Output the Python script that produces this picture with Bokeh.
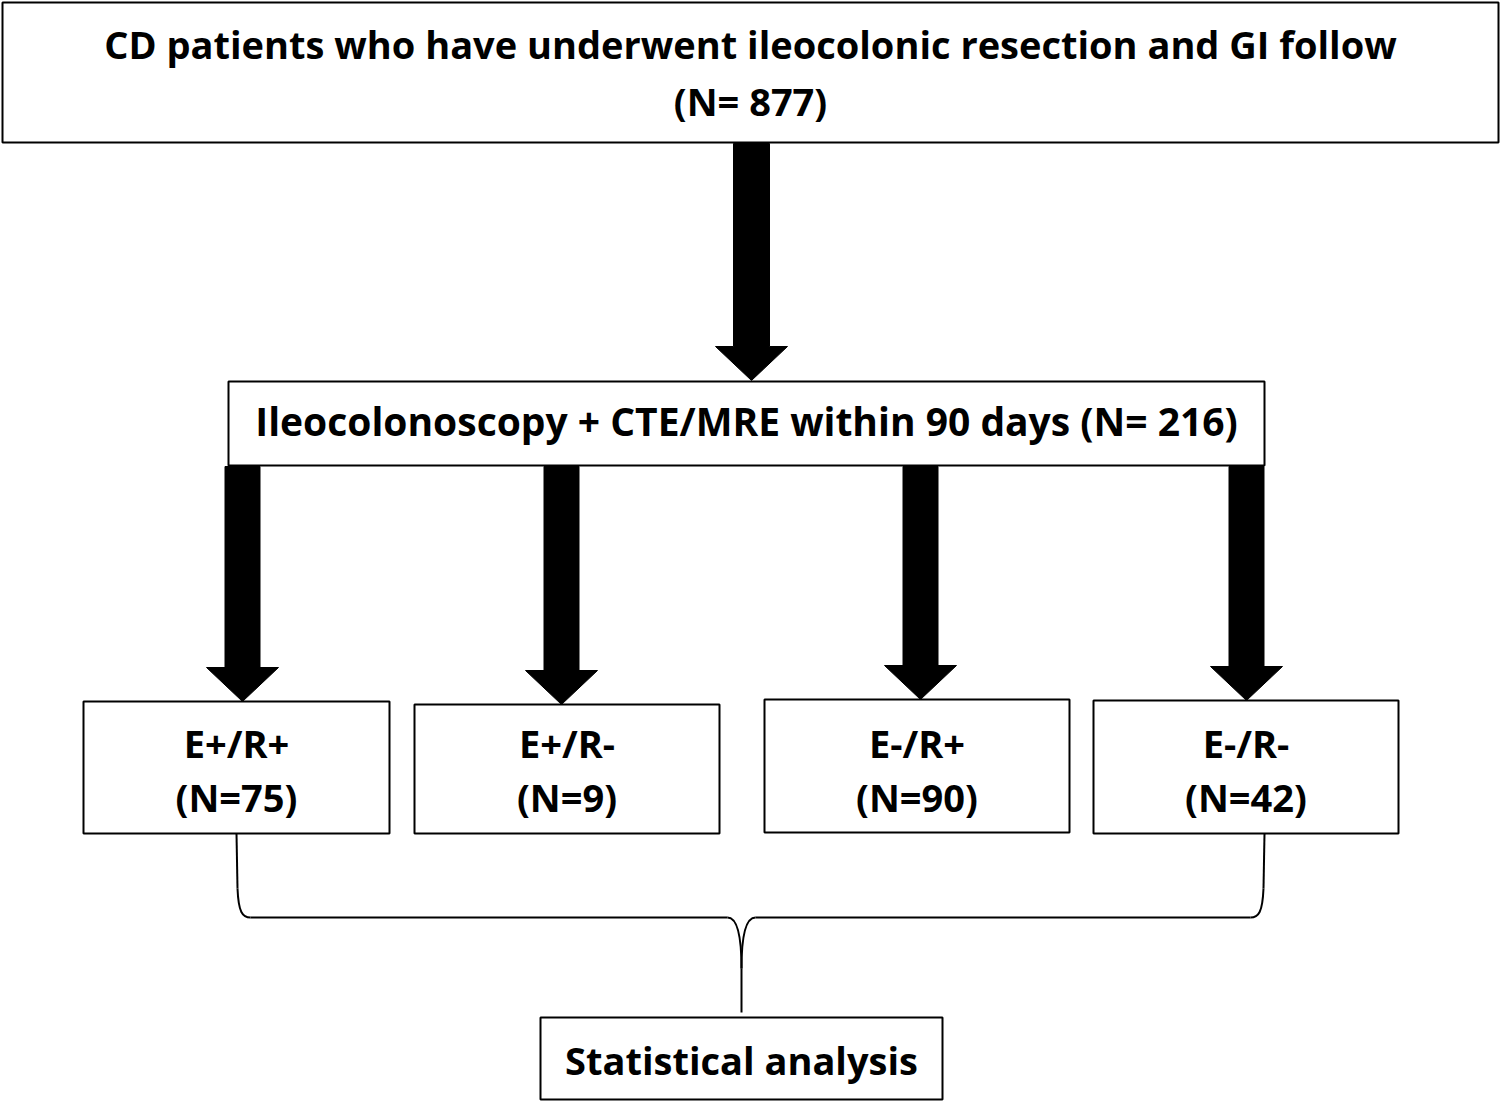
from bokeh.plotting import figure
from bokeh.models import Range1d
from bokeh.core.properties import value
from bokeh.embed import file_html
from bokeh.resources import INLINE

# ---- data ----
title_line = "CD patients who have underwent ileocolonic resection and GI follow"
total_n = 877
imaging_label = "Ileocolonoscopy + CTE/MRE within 90 days"
imaging_n = 216
group_labels = ["E+/R+", "E+/R-", "E-/R+", "E-/R-"]
group_n = [75, 9, 90, 42]
final_label = "Statistical analysis"

# ---- layout (screen-pixel coordinates of the page) ----
W, H = 1500, 1106
FONT = "Open Sans"
FS = "38px"
DY = -15  # baseline correction

p = figure(width=W, height=H, output_backend="svg", toolbar_location=None,
           x_range=Range1d(0, W), y_range=Range1d(H, 0),
           min_border=0)
p.axis.visible = False
p.grid.visible = False
p.outline_line_color = None
p.background_fill_color = "white"
p.border_fill_color = "white"

def box(l, r, t, b):
    p.quad(left=l, right=r, top=t, bottom=b, fill_color="white",
           line_color="black", line_width=2)

def arrow(cx, top, tip, shaft=35, head=72, head_len=34):
    hs, hh = shaft / 2, head / 2
    xs = [cx - hs, cx + hs, cx + hs, cx + hh, cx, cx - hh, cx - hs]
    ys = [top, top, tip - head_len, tip - head_len, tip, tip - head_len, tip - head_len]
    p.patch(xs, ys, fill_color="black", line_color="black", line_width=1)

def label(x, y, txt, size=FS):
    p.text(x=[x], y=[y + DY], text=[txt], text_font=value(FONT), text_font_style="bold",
           text_font_size=size, text_align="center", text_baseline="alphabetic",
           text_color="black")

# top box
box(2, 1498, 2, 142)
label(750, 58, title_line)
label(750, 115, f"(N= {total_n})")

# central arrow
arrow(751, 143, 380, shaft=36)

# middle box
box(228, 1264, 381, 465)
label(746, 435, f"{imaging_label} (N= {imaging_n})", size="39px")

# group boxes
box_l = [83, 414, 764, 1093]
box_r = [389, 719, 1069, 1398]
box_t = [701, 704, 699, 700]
box_b = [833, 833, 832, 833]
arrow_x = [242, 561, 920, 1246]
for i, (lab, n) in enumerate(zip(group_labels, group_n)):
    arrow(arrow_x[i], 466, box_t[i])
    box(box_l[i], box_r[i], box_t[i], box_b[i])
    cx = (box_l[i] + box_r[i]) / 2
    label(cx, 757, lab)
    label(cx, 811, f"(N={n})")

# brace connecting first and last groups to statistical analysis
lw = 2
p.segment(x0=[236], y0=[833], x1=[237], y1=[888], line_color="black", line_width=lw)
p.bezier(x0=[237], y0=[888], x1=[250], y1=[917], cx0=[238], cy0=[912], cx1=[242], cy1=[917],
         line_color="black", line_width=lw)
p.segment(x0=[250], y0=[917], x1=[727], y1=[917], line_color="black", line_width=lw)
p.bezier(x0=[727], y0=[917], x1=[741], y1=[968], cx0=[737], cy0=[917], cx1=[741], cy1=[935],
         line_color="black", line_width=lw)
p.bezier(x0=[755], y0=[917], x1=[741], y1=[968], cx0=[745], cy0=[917], cx1=[741], cy1=[935],
         line_color="black", line_width=lw)
p.segment(x0=[741], y0=[968], x1=[741], y1=[1012], line_color="black", line_width=lw)
p.segment(x0=[755], y0=[917], x1=[1250], y1=[917], line_color="black", line_width=lw)
p.bezier(x0=[1250], y0=[917], x1=[1263], y1=[888], cx0=[1258], cy0=[917], cx1=[1262], cy1=[912],
         line_color="black", line_width=lw)
p.segment(x0=[1263], y0=[888], x1=[1264], y1=[833], line_color="black", line_width=lw)

# final box
box(540, 942, 1017, 1099)
label(741, 1074, final_label)

open("out.html", "w").write(file_html(p, INLINE))
